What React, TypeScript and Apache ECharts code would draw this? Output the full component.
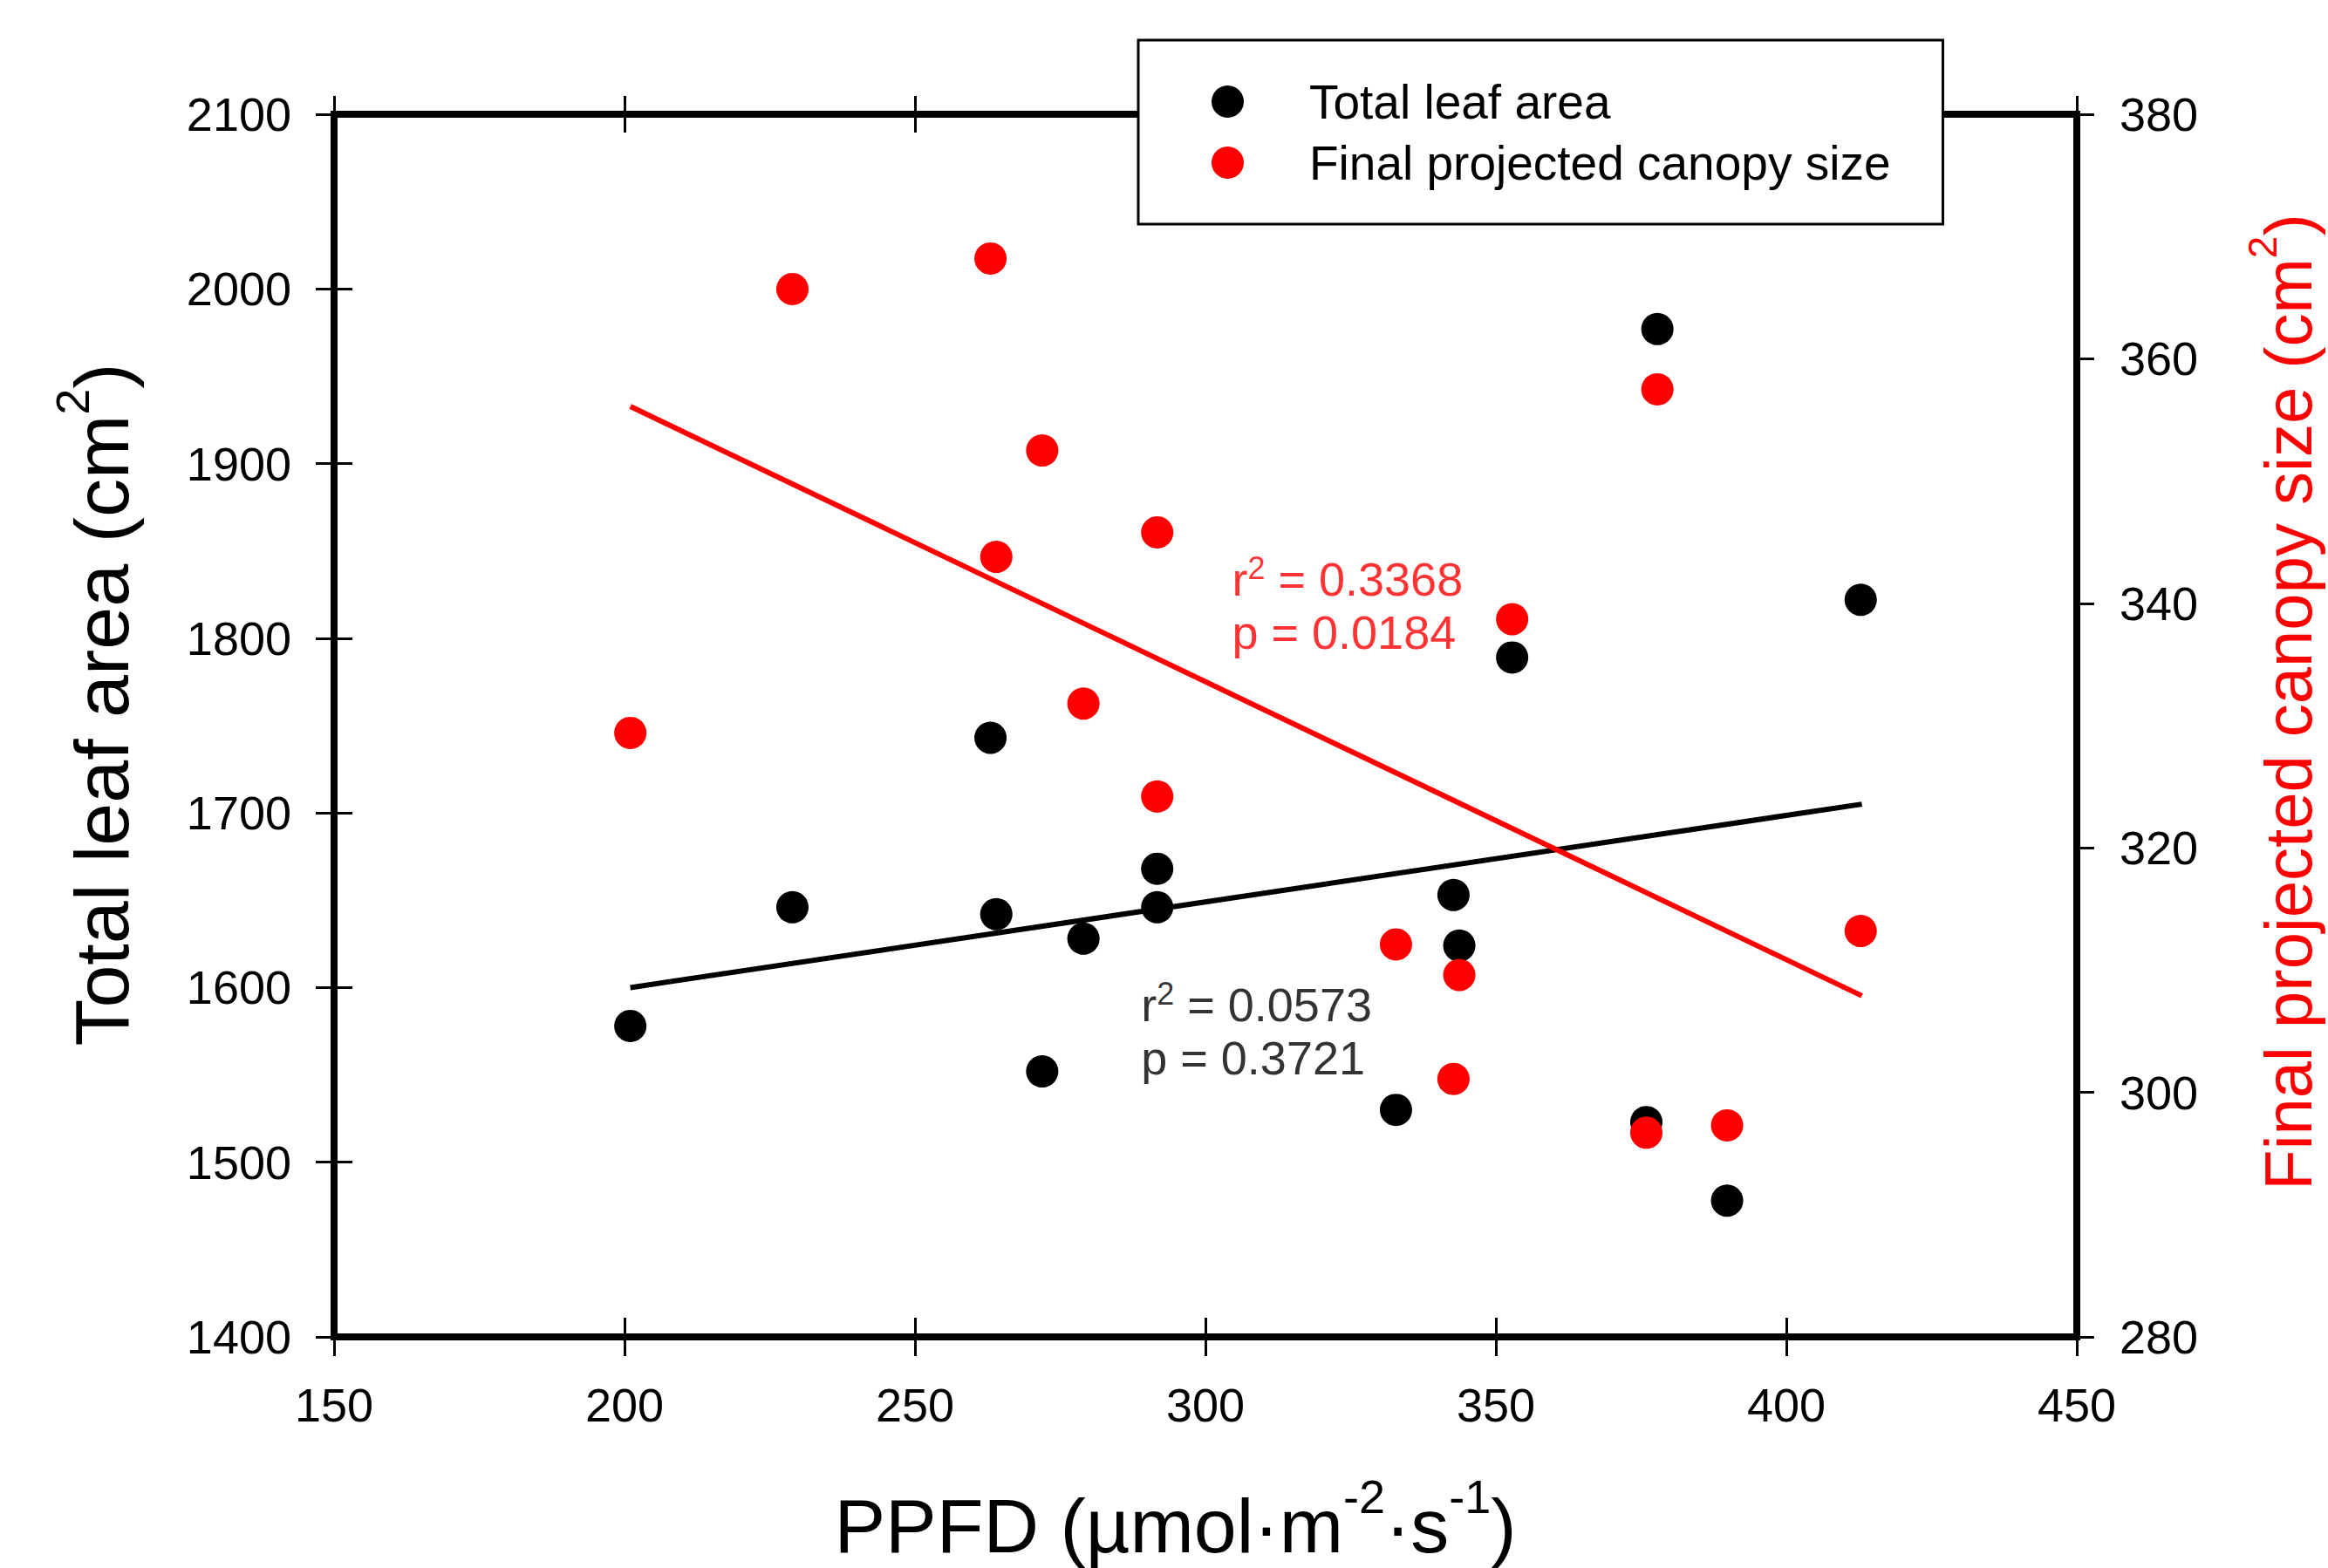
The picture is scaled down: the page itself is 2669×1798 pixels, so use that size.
import React, { useEffect, useRef } from "react";
import * as echarts from "echarts";

// ---- data ----
const ppfd = [201.0, 228.9, 263.0, 264.0, 271.9, 279.0, 291.7, 291.7, 332.8, 342.7, 343.7, 352.8, 375.9, 377.8, 389.8, 412.8];
const leafArea = [1578, 1646, 1743, 1642, 1552, 1628, 1668, 1646, 1530, 1653, 1624, 1789, 1523, 1977, 1478, 1822];
const canopySize = [329.4, 365.7, 368.2, 343.8, 352.5, 331.8, 345.8, 324.2, 312.1, 301.1, 309.6, 338.7, 296.7, 357.5, 297.3, 313.2];

const fitX = [201, 413];
const leafAreaFit = [1600, 1705];
const canopyFit = [356.1, 307.9];

const leafStats = ["0.0573", "0.3721"]; // r², p
const canopyStats = ["0.3368", "0.0184"]; // r², p

const seriesNames = ["Total leaf area", "Final projected canopy size"];

const FONT = "'Liberation Sans', Arial, Helvetica, sans-serif";
const RED = "#ff0000";
const BLACK = "#000000";

export default function App() {
  const ref = useRef<HTMLDivElement>(null);

  useEffect(() => {
    if (!ref.current) return;
    const chart = echarts.init(ref.current, undefined, { renderer: "svg" });

    const axisLine = { show: true, onZero: false, lineStyle: { color: BLACK, width: 8, cap: "square" } };
    const tickStyle = { color: BLACK, width: 3 };
    const plain = (v: number) => String(v);
    const labelStyle = { fontSize: 54, color: BLACK, fontFamily: FONT, formatter: plain };

    const xBase = { type: "value", min: 150, max: 450, interval: 50, splitLine: { show: false } };
    const yLeftBase = { type: "value", min: 1400, max: 2100, interval: 100, splitLine: { show: false } };
    const yRightBase = { type: "value", min: 280, max: 380, interval: 20, splitLine: { show: false } };

    const statsLabel = (vals: string[], color: string) => ({
      show: true,
      position: [0, 0],
      align: "left",
      verticalAlign: "top",
      formatter: `{t|r}{s|2}{t| = ${vals[0]}}\n{t|p = ${vals[1]}}`,
      rich: {
        t: { fontSize: 54, lineHeight: 61, color, fontFamily: FONT },
        s: { fontSize: 36, verticalAlign: "top", color, fontFamily: FONT },
      },
    });

    const option: any = {
      animation: false,
      backgroundColor: "#ffffff",
      grid: { left: 383, right: 281, top: 131, bottom: 260, containLabel: false },
      legend: {
        data: seriesNames,
        orient: "vertical",
        left: 1305,
        top: 46,
        padding: [43, 60, 43, 84],
        itemGap: 15,
        itemWidth: 37,
        itemHeight: 37,
        icon: "circle",
        backgroundColor: "#ffffff",
        borderColor: BLACK,
        borderWidth: 3,
        borderRadius: 0,
        selectedMode: false,
        textStyle: { fontSize: 55, lineHeight: 55, color: BLACK, fontFamily: FONT, padding: [0, 0, 0, 70] },
        z: 10,
      },
      xAxis: [
        {
          ...xBase,
          position: "bottom",
          axisLine,
          axisTick: { show: true, inside: false, length: 22, lineStyle: tickStyle },
          axisLabel: { ...labelStyle, margin: 51 },
          name: "{m|PPFD (µmol·m}{s|-2}{m|·s}{s|-1}{m|)}",
          nameLocation: "middle",
          nameGap: 156,
          nameTextStyle: {
            padding: [0, 69, 0, 0],
            rich: {
              m: { fontSize: 88, lineHeight: 120, color: BLACK, fontFamily: FONT },
              s: { fontSize: 54, verticalAlign: "top", color: BLACK, fontFamily: FONT },
            },
          },
        },
        {
          ...xBase,
          position: "bottom",
          axisLine: { show: false },
          axisTick: { show: true, inside: true, length: 22, lineStyle: tickStyle },
          axisLabel: { show: false },
        },
        {
          ...xBase,
          position: "top",
          axisLine,
          axisTick: { show: true, inside: false, length: 21, lineStyle: tickStyle },
          axisLabel: { show: false },
        },
        {
          ...xBase,
          position: "top",
          axisLine: { show: false },
          axisTick: { show: true, inside: true, length: 21, lineStyle: tickStyle },
          axisLabel: { show: false },
        },
      ],
      yAxis: [
        {
          ...yLeftBase,
          position: "left",
          axisLine,
          axisTick: { show: true, inside: false, length: 21, lineStyle: tickStyle },
          axisLabel: { ...labelStyle, margin: 49 },
          name: "{m|Total leaf area (cm}{s|2}{m|)}",
          nameLocation: "middle",
          nameRotate: 90,
          nameGap: 207,
          nameTextStyle: {
            padding: [0, 0, 0, 48],
            rich: {
              m: { fontSize: 88, lineHeight: 120, color: BLACK, fontFamily: FONT },
              s: { fontSize: 54, verticalAlign: "top", color: BLACK, fontFamily: FONT },
            },
          },
        },
        {
          ...yRightBase,
          position: "right",
          axisLine,
          axisTick: { show: true, inside: false, length: 20, lineStyle: tickStyle },
          axisLabel: { ...labelStyle, margin: 49 },
          name: "{m|Final projected canopy size (cm}{s|2}{m|)}",
          nameLocation: "middle",
          nameRotate: 90,
          nameGap: 190,
          nameTextStyle: {
            padding: [0, 0, 0, 54],
            rich: {
              m: { fontSize: 76, lineHeight: 104, color: RED, fontFamily: FONT },
              s: { fontSize: 46, verticalAlign: "top", color: RED, fontFamily: FONT },
            },
          },
        },
        {
          ...yLeftBase,
          position: "left",
          axisLine: { show: false },
          axisTick: { show: true, inside: true, length: 21, lineStyle: tickStyle },
          axisLabel: { show: false },
        },
      ],
      series: [
        {
          name: "leaf fit",
          type: "line",
          xAxisIndex: 0,
          yAxisIndex: 0,
          data: fitX.map((x, i) => [x, leafAreaFit[i]]),
          symbol: "none",
          lineStyle: { color: BLACK, width: 6 },
          silent: true,
          z: 2,
        },
        {
          name: "canopy fit",
          type: "line",
          xAxisIndex: 0,
          yAxisIndex: 1,
          data: fitX.map((x, i) => [x, canopyFit[i]]),
          symbol: "none",
          lineStyle: { color: RED, width: 6 },
          silent: true,
          z: 2,
        },
        {
          name: seriesNames[0],
          type: "scatter",
          xAxisIndex: 0,
          yAxisIndex: 0,
          data: ppfd.map((x, i) => [x, leafArea[i]]),
          symbol: "circle",
          symbolSize: 37,
          itemStyle: { color: BLACK, opacity: 1 },
          z: 3,
        },
        {
          name: seriesNames[1],
          type: "scatter",
          xAxisIndex: 0,
          yAxisIndex: 1,
          data: ppfd.map((x, i) => [x, canopySize[i]]),
          symbol: "circle",
          symbolSize: 37,
          itemStyle: { color: RED, opacity: 1 },
          z: 4,
        },
        {
          name: "leaf stats",
          type: "scatter",
          xAxisIndex: 0,
          yAxisIndex: 0,
          data: [[289, 1605]],
          symbolSize: 1,
          itemStyle: { color: "rgba(0,0,0,0)" },
          label: statsLabel(leafStats, BLACK),
          silent: true,
          z: 5,
        },
        {
          name: "canopy stats",
          type: "scatter",
          xAxisIndex: 0,
          yAxisIndex: 0,
          data: [[304.65, 1849]],
          symbolSize: 1,
          itemStyle: { color: "rgba(0,0,0,0)" },
          label: statsLabel(canopyStats, RED),
          silent: true,
          z: 5,
        },
      ],
    };

    chart.setOption(option);
    return () => chart.dispose();
  }, []);

  return (
    <div
      ref={ref}
      style={{ position: "absolute", left: 0, top: 0, width: 2669, height: 1798, background: "#fff" }}
    />
  );
}
